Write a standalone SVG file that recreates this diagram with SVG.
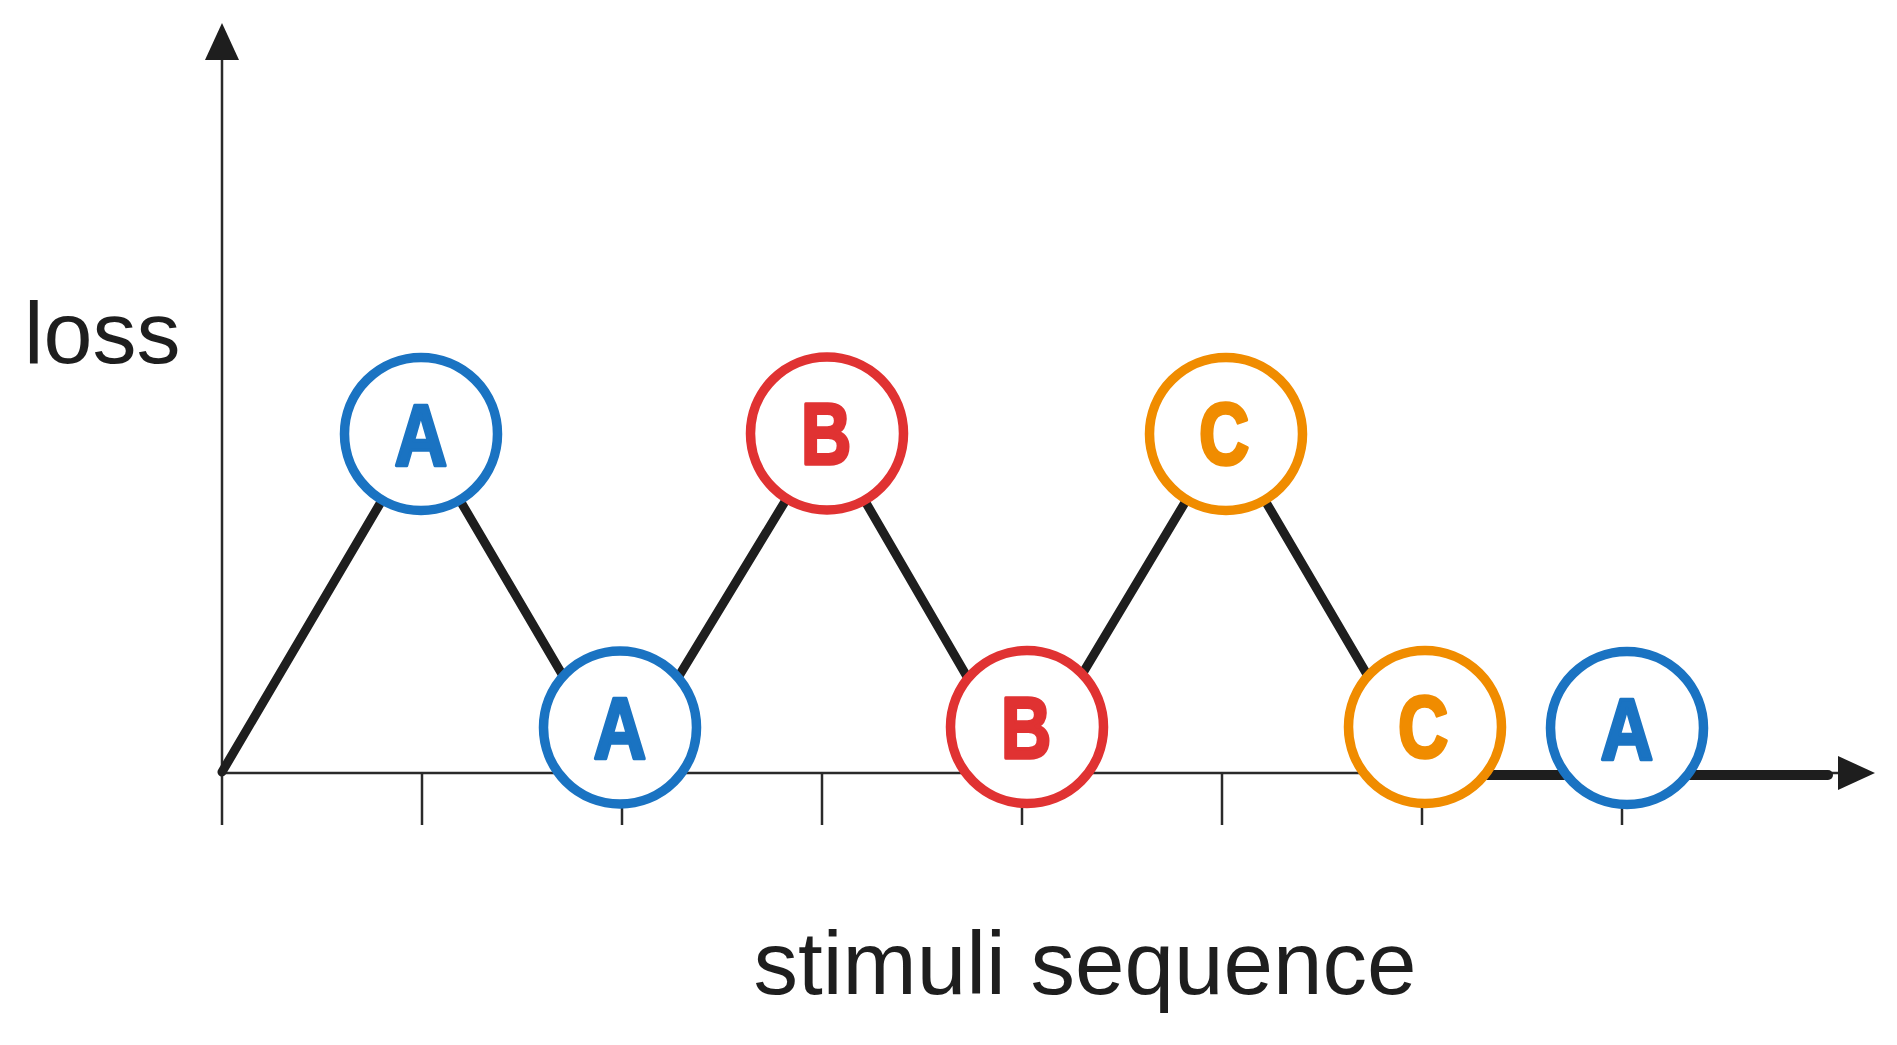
<svg xmlns="http://www.w3.org/2000/svg" width="1897" height="1045" viewBox="0 0 1897 1045">
<style>
.axis{stroke:#2a2a2a;stroke-width:2.5;fill:none}
.head{fill:#1e1e1e}
.curve{stroke:#1e1e1e;stroke-width:9;fill:none;stroke-linejoin:round;stroke-linecap:round}
.thick{stroke:#1e1e1e;stroke-width:10;fill:none;stroke-linecap:round}
.node circle{fill:#ffffff;stroke-width:9.5}
.node text{font-family:"Liberation Sans",Arial,sans-serif;font-weight:bold;font-size:87px;text-anchor:middle;stroke-width:3.5;stroke-linejoin:round}
.a circle{stroke:#1a73c2}.a text{fill:#1a73c2;stroke:#1a73c2}
.b circle{stroke:#e03232}.b text{fill:#e03232;stroke:#e03232}
.c circle{stroke:#f08c00}.c text{fill:#f08c00;stroke:#f08c00}
.label{font-family:"Liberation Sans",Arial,sans-serif;fill:#1e1e1e}
</style>
<rect width="1897" height="1045" fill="#ffffff"/>
<g id="axes">
<line class="axis" x1="222" y1="58" x2="222" y2="825"/>
<line class="axis" x1="222" y1="773" x2="1840" y2="773"/>
<polygon class="head" points="222,23 205,60 239,60"/>
<polygon class="head" points="1875,773 1838,756 1838,790"/>
<line class="axis" x1="422" y1="773" x2="422" y2="825"/>
<line class="axis" x1="622" y1="773" x2="622" y2="825"/>
<line class="axis" x1="822" y1="773" x2="822" y2="825"/>
<line class="axis" x1="1022" y1="773" x2="1022" y2="825"/>
<line class="axis" x1="1222" y1="773" x2="1222" y2="825"/>
<line class="axis" x1="1422" y1="773" x2="1422" y2="825"/>
<line class="axis" x1="1622" y1="773" x2="1622" y2="825"/>
</g>
<g id="connectors">
<polyline class="curve" points="222,772 421,434 620,773 826,434 1023,773 1226,434 1426,775"/>
<line class="thick" x1="1426" y1="775" x2="1828" y2="775"/>
</g>
<g id="node-a1" class="node a"><circle cx="421" cy="434" r="76.5"/><text transform="translate(421 464.5) scale(0.84 1)">A</text></g>
<g id="node-a2" class="node a"><circle cx="620" cy="727.5" r="76.5"/><text transform="translate(620 758) scale(0.84 1)">A</text></g>
<g id="node-b1" class="node b"><circle cx="827" cy="433.5" r="76.5"/><text transform="translate(826 464) scale(0.8 1)">B</text></g>
<g id="node-b2" class="node b"><circle cx="1027" cy="727" r="76.5"/><text transform="translate(1026 757.5) scale(0.8 1)">B</text></g>
<g id="node-c1" class="node c"><circle cx="1226" cy="434" r="76.5"/><text transform="translate(1224 464) scale(0.8 1)">C</text></g>
<g id="node-c2" class="node c"><circle cx="1425" cy="727" r="76.5"/><text transform="translate(1423 757) scale(0.8 1)">C</text></g>
<g id="node-a3" class="node a"><circle cx="1627" cy="728" r="76.5"/><text transform="translate(1627 758.5) scale(0.84 1)">A</text></g>
<g id="labels">
<text class="label" x="24" y="363" font-size="88">loss</text>
<text class="label" x="1085" y="994" font-size="89" text-anchor="middle">stimuli sequence</text>
</g>
</svg>
